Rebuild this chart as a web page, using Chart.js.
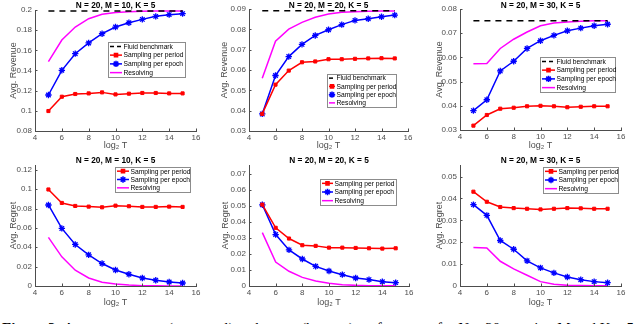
<!DOCTYPE html>
<html>
<head>
<meta charset="utf-8">
<script src="https://cdn.jsdelivr.net/npm/chart.js@4.4.0/dist/chart.umd.min.js"></script>
<style>
html, body { margin: 0; padding: 0; background: #fff; width: 640px; height: 324px; overflow: hidden; position: relative; }
canvas { position: absolute; }
#caption {
    position: absolute; left: 2px; top: 321px; width: 636px;
    font: 15px "Liberation Serif", "DejaVu Serif", serif; line-height: 15px;
    white-space: nowrap; text-align: justify; text-align-last: justify;
}
</style>
</head>
<body>
<canvas id="c1" width="210" height="152" style="left:0;top:0"></canvas>
<canvas id="c2" width="210" height="152" style="left:210px;top:0"></canvas>
<canvas id="c3" width="220" height="152" style="left:420px;top:0"></canvas>
<canvas id="c4" width="210" height="160" style="left:0;top:152px"></canvas>
<canvas id="c5" width="210" height="160" style="left:210px;top:152px"></canvas>
<canvas id="c6" width="220" height="160" style="left:420px;top:152px"></canvas>
<div id="caption"><b>Figure 2:</b> Average revenue (top panel) and regret (bottom) performance for N = 20, varying M and K = 5 with</div>
<script>
// x values and ticks
const log2T = [5, 6, 7, 8, 9, 10, 11, 12, 13, 14, 15];
const xTicks = [4, 6, 8, 10, 12, 14, 16];

// Avg. Revenue, M = 10
const fluidM10 = [0.199, 0.199, 0.199, 0.199, 0.199, 0.199, 0.199, 0.199, 0.199, 0.199, 0.199];
const revPeriodM10 = [0.0998, 0.114, 0.1167, 0.1173, 0.1183, 0.1163, 0.117, 0.1177, 0.1177, 0.1173, 0.1173];
const revEpochM10 = [0.1157, 0.1402, 0.1567, 0.1673, 0.1765, 0.1831, 0.1874, 0.1907, 0.1937, 0.1954, 0.1964];
const revResolveM10 = [0.1488, 0.1702, 0.1831, 0.1914, 0.1957, 0.1974, 0.1983, 0.1988, 0.199, 0.199, 0.199];

// Avg. Revenue, M = 20
const fluidM20 = [0.0891, 0.0891, 0.0891, 0.0891, 0.0891, 0.0891, 0.0891, 0.0891, 0.0891, 0.0891, 0.0891];
const revPeriodM20 = [0.0384, 0.0528, 0.0597, 0.0638, 0.0642, 0.0653, 0.0653, 0.0655, 0.0657, 0.0658, 0.0657];
const revEpochM20 = [0.0384, 0.0573, 0.0666, 0.0726, 0.077, 0.0798, 0.0823, 0.0844, 0.0852, 0.0862, 0.087];
const revResolveM20 = [0.056, 0.0742, 0.0801, 0.0834, 0.0859, 0.0875, 0.0884, 0.0887, 0.0889, 0.089, 0.089];

// Avg. Revenue, M = 30
const fluidM30 = [0.0751, 0.0751, 0.0751, 0.0751, 0.0751, 0.0751, 0.0751, 0.0751, 0.0751, 0.0751, 0.0751];
const revPeriodM30 = [0.0318, 0.0362, 0.0388, 0.0392, 0.0398, 0.04, 0.0398, 0.0394, 0.0396, 0.0398, 0.0398];
const revEpochM30 = [0.038, 0.0425, 0.0544, 0.0584, 0.0637, 0.0669, 0.0691, 0.071, 0.0721, 0.0731, 0.0737];
const revResolveM30 = [0.0574, 0.0575, 0.0637, 0.0675, 0.0705, 0.0731, 0.0742, 0.0746, 0.0749, 0.0751, 0.0751];

// Avg. Regret
const regPeriodM10 = [0.0997, 0.0858, 0.0827, 0.082, 0.0813, 0.083, 0.0824, 0.0817, 0.0817, 0.082, 0.0817];
const regEpochM10 = [0.0837, 0.0595, 0.0429, 0.0322, 0.0232, 0.0166, 0.0121, 0.0083, 0.0059, 0.0042, 0.0031];
const regResolveM10 = [0.0502, 0.0301, 0.0163, 0.0083, 0.0038, 0.0021, 0.001, 0.0003, 0.0002, 0.0001, 0.0001];

const regPeriodM20 = [0.0509, 0.0364, 0.0297, 0.0255, 0.0251, 0.024, 0.024, 0.0238, 0.0236, 0.0234, 0.0236];
const regEpochM20 = [0.0508, 0.0322, 0.0226, 0.0169, 0.0123, 0.0094, 0.0071, 0.005, 0.004, 0.0027, 0.0021];
const regResolveM20 = [0.0334, 0.015, 0.0092, 0.0054, 0.0031, 0.0017, 0.0008, 0.0004, 0.0002, 0.0001, 0.0001];

const regPeriodM30 = [0.0431, 0.0385, 0.0361, 0.0356, 0.0353, 0.035, 0.0353, 0.0356, 0.0355, 0.0353, 0.0353];
const regEpochM30 = [0.0372, 0.0323, 0.0208, 0.0168, 0.0115, 0.0083, 0.006, 0.0041, 0.0029, 0.002, 0.0015];
const regResolveM30 = [0.0176, 0.0174, 0.0113, 0.0078, 0.0049, 0.002, 0.0008, 0.0003, 0.0002, 0.0001, 0.0001];

// y tick labels
const revTicksM10 = [0.08, 0.1, 0.12, 0.14, 0.16, 0.18, 0.2];
const revTicksM20 = [0.03, 0.04, 0.05, 0.06, 0.07, 0.08, 0.09];
const revTicksM30 = [0.03, 0.04, 0.05, 0.06, 0.07, 0.08];
const regTicksM10 = [0, 0.02, 0.04, 0.06, 0.08, 0.1, 0.12];
const regTicksM20 = [0, 0.01, 0.02, 0.03, 0.04, 0.05, 0.06, 0.07];
const regTicksM30 = [0, 0.01, 0.02, 0.03, 0.04, 0.05];

const FONT = '"Liberation Sans", Arial, Helvetica, sans-serif';
const AXIS_COLOR = '#4d4d4d';

function fluid(data) {
    return { label: 'Fluid benchmark', data: data, borderColor: '#000', borderWidth: 1.5,
             borderDash: [6, 5], pointRadius: 0 };
}
function period(data) {
    return { label: 'Sampling per period', data: data, borderColor: '#ff0000', backgroundColor: '#ff0000',
             borderWidth: 1.5, pointStyle: 'rect', pointRadius: 2.2, pointBorderWidth: 1 };
}
function epoch(data) {
    return { label: 'Sampling per epoch', data: data, borderColor: '#0000ff', backgroundColor: '#0000ff',
             borderWidth: 1.5, pointStyle: 'star', pointRadius: 3.2, pointBorderWidth: 1.3 };
}
function resolve(data) {
    return { label: 'Resolving', data: data, borderColor: '#ff00ff', borderWidth: 1.5, pointRadius: 0 };
}

// canvas: [left, top, width, height] on page; area: [left, top, right, bottom] on page
const panels = [
    { id: 'c1', canvas: [0, 0, 210, 152], area: [35, 10, 196, 131], title: 'N = 20, M = 10, K = 5',
      ylabel: 'Avg. Revenue', labelX: 14, yMin: 0.08, yMax: 0.2, yTicks: revTicksM10,
      datasets: [fluid(fluidM10), period(revPeriodM10), epoch(revEpochM10), resolve(revResolveM10)],
      legend: [108, 42, 77, 35, 12] },
    { id: 'c2', canvas: [210, 0, 210, 152], area: [249, 9, 408, 131], title: 'N = 20, M = 20, K = 5',
      ylabel: 'Avg. Revenue', labelX: 225, yMin: 0.03, yMax: 0.09, yTicks: revTicksM20,
      datasets: [fluid(fluidM20), period(revPeriodM20), epoch(revEpochM20), resolve(revResolveM20)],
      legend: [327, 74, 69, 33, 6] },
    { id: 'c3', canvas: [420, 0, 220, 152], area: [460, 9, 621, 130], title: 'N = 20, M = 30, K = 5',
      ylabel: 'Avg. Revenue', labelX: 440, yMin: 0.03, yMax: 0.08, yTicks: revTicksM30,
      datasets: [fluid(fluidM30), period(revPeriodM30), epoch(revEpochM30), resolve(revResolveM30)],
      legend: [540, 57, 75, 35, 13] },
    { id: 'c4', canvas: [0, 152, 210, 160], area: [35, 165, 196, 286], title: 'N = 20, M = 10, K = 5',
      ylabel: 'Avg. Regret', labelX: 14, yMin: 0, yMax: 0.125, yTicks: regTicksM10,
      datasets: [period(regPeriodM10), epoch(regEpochM10), resolve(regResolveM10)],
      legend: [115, 167, 75, 25, 12] },
    { id: 'c5', canvas: [210, 152, 210, 160], area: [249, 165, 409, 286], title: 'N = 20, M = 20, K = 5',
      ylabel: 'Avg. Regret', labelX: 226, yMin: 0, yMax: 0.0757, yTicks: regTicksM20,
      datasets: [period(regPeriodM20), epoch(regEpochM20), resolve(regResolveM20)],
      legend: [320, 179, 76, 26, 11] },
    { id: 'c6', canvas: [420, 152, 220, 160], area: [460, 165, 621, 286], title: 'N = 20, M = 30, K = 5',
      ylabel: 'Avg. Regret', labelX: 440, yMin: 0, yMax: 0.0553, yTicks: regTicksM30,
      datasets: [period(regPeriodM30), epoch(regEpochM30), resolve(regResolveM30)],
      legend: [543, 167, 75, 26, 12] }
];

// title, inward tick marks and the boxed legend, drawn on the canvas
const decorations = {
    id: 'decorations',
    afterDraw(chart, args, opts) {
        const ctx = chart.ctx;
        const a = chart.chartArea;
        const p = opts.panel;
        ctx.save();
        // inward ticks
        ctx.strokeStyle = AXIS_COLOR;
        ctx.lineWidth = 1;
        ctx.beginPath();
        chart.scales.x.ticks.forEach(t => {
            const x = Math.round(chart.scales.x.getPixelForValue(t.value)) + 0.5;
            ctx.moveTo(x, a.bottom); ctx.lineTo(x, a.bottom - 2.5);
        });
        chart.scales.y.ticks.forEach(t => {
            const y = Math.round(chart.scales.y.getPixelForValue(t.value)) + 0.5;
            ctx.moveTo(a.left, y); ctx.lineTo(a.left + 2.5, y);
        });
        ctx.stroke();

        // title
        ctx.fillStyle = '#000';
        ctx.font = 'bold 8.3px ' + FONT;
        ctx.textAlign = 'center';
        ctx.textBaseline = 'alphabetic';
        ctx.fillText(p.title, (a.left + a.right) / 2, p.canvas[1] === 0 ? 7.8 : 10.8);

        // legend
        const [lx, ly, lw, lh, sample] = p.legend;
        const bx = lx - p.canvas[0], by = ly - p.canvas[1];
        ctx.fillStyle = '#fff';
        ctx.fillRect(bx, by, lw, lh);
        ctx.strokeStyle = '#8c8c8c';
        ctx.strokeRect(bx + 0.5, by + 0.5, lw, lh);
        const n = chart.data.datasets.length;
        ctx.font = '6.7px ' + FONT;
        ctx.textAlign = 'left';
        ctx.textBaseline = 'middle';
        chart.data.datasets.forEach((ds, i) => {
            const y = by + lh * (i + 0.5) / n;
            const x0 = bx + 2, x1 = x0 + sample;
            ctx.strokeStyle = ds.borderColor;
            ctx.lineWidth = 1.5;
            ctx.setLineDash(ds.borderDash ? [4, 3] : []);
            ctx.beginPath(); ctx.moveTo(x0, y); ctx.lineTo(x1, y); ctx.stroke();
            ctx.setLineDash([]);
            if (ds.pointRadius > 0) {
                ctx.fillStyle = ds.backgroundColor;
                Chart.helpers.drawPoint(ctx, { pointStyle: ds.pointStyle, radius: ds.pointRadius,
                    borderWidth: ds.pointBorderWidth, rotation: 0 }, (x0 + x1) / 2, y);
            }
            ctx.fillStyle = '#000';
            ctx.fillText(ds.label, x1 + 1.5, y + 0.5);
        });
        ctx.restore();
    }
};

panels.forEach(p => {
    const [cl, ct, cw, chh] = p.canvas;
    const [al, at, ar, ab] = p.area;
    const labelFont = { family: FONT, size: 9 };
    new Chart(document.getElementById(p.id), {
        type: 'line',
        data: { labels: log2T, datasets: p.datasets.map(ds => Object.assign({}, ds, {
            data: ds.data.map((v, i) => ({ x: log2T[i], y: v })), fill: false, tension: 0 })) },
        options: {
            responsive: false,
            animation: false,
            events: [],
            layout: { padding: { left: 0, top: at - ct, right: cl + cw - ar, bottom: 0 } },
            plugins: {
                legend: { display: false },
                tooltip: { enabled: false },
                decorations: { panel: p }
            },
            scales: {
                x: {
                    type: 'linear', min: 4, max: 16,
                    afterBuildTicks: s => { s.ticks = xTicks.map(v => ({ value: v })); },
                    afterFit: s => { s.height = ct + chh - ab; },
                    grid: { display: false, drawTicks: false },
                    border: { display: true, color: AXIS_COLOR, width: 1 },
                    ticks: { color: AXIS_COLOR, font: { family: FONT, size: 8 }, padding: 2,
                             maxRotation: 0, autoSkip: false },
                    title: { display: true, text: 'log\u2082 T', color: AXIS_COLOR, font: labelFont,
                             padding: { top: 0, bottom: ct === 0 ? 0.8 : 4.4 } }
                },
                y: {
                    min: p.yMin, max: p.yMax,
                    afterBuildTicks: s => { s.ticks = p.yTicks.map(v => ({ value: v })); },
                    afterFit: s => { s.width = al - cl; },
                    grid: { display: false, drawTicks: false },
                    border: { display: true, color: AXIS_COLOR, width: 1 },
                    ticks: { color: AXIS_COLOR, font: { family: FONT, size: 8 }, padding: 3,
                             autoSkip: false, callback: v => String(+v.toFixed(4)) },
                    title: { display: true, text: p.ylabel, color: AXIS_COLOR, font: labelFont,
                             padding: { top: p.labelX - cl - 5.4, bottom: 0 } }
                }
            }
        },
        plugins: [decorations]
    });
});
</script>
</body>
</html>
